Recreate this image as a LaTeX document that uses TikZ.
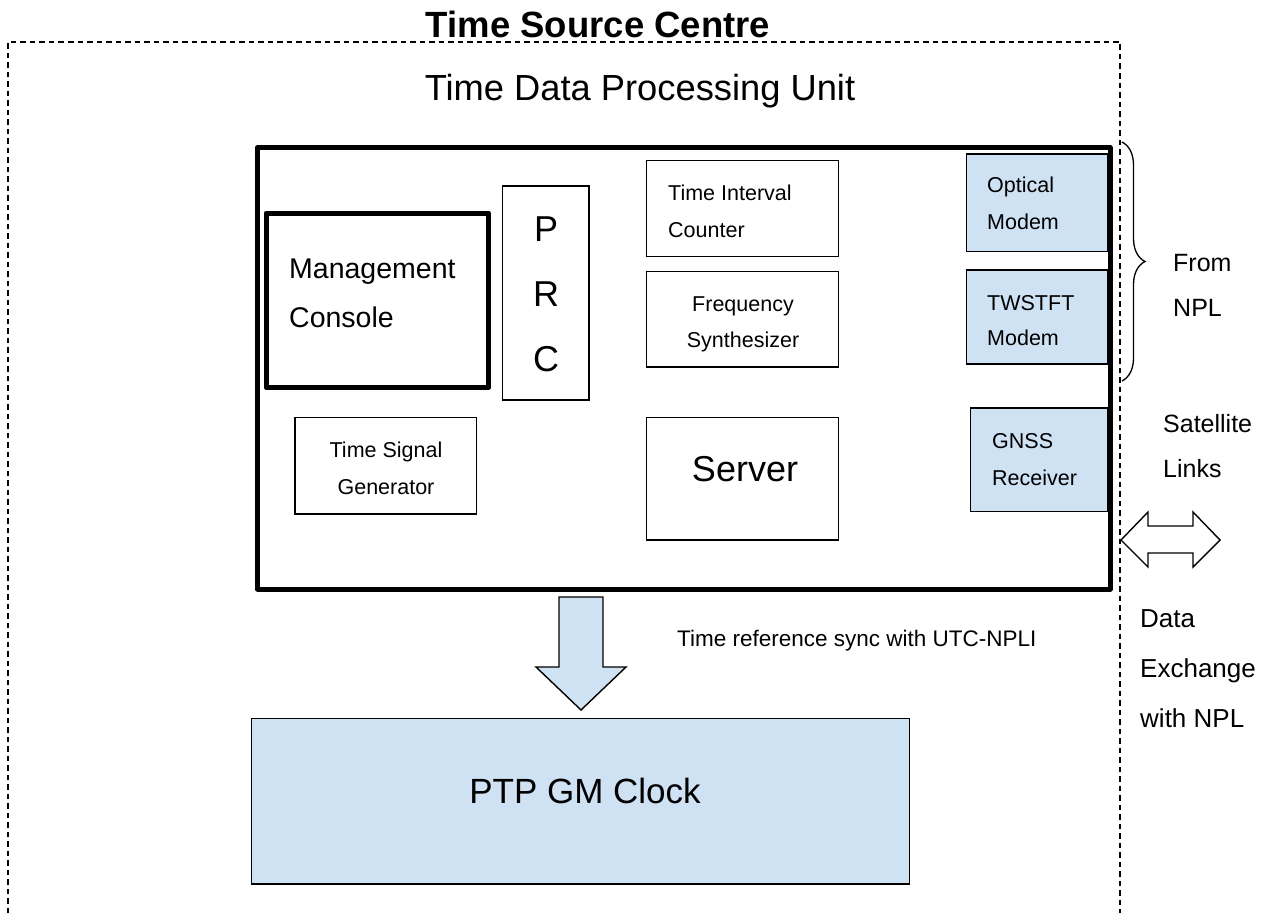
\documentclass[tikz,border=0pt]{standalone}
\usepackage{fontspec}
\setmainfont{Liberation Sans}
\usetikzlibrary{decorations.pathreplacing}
\definecolor{lblue}{HTML}{CFE2F3}
\begin{document}
\begin{tikzpicture}[x=1pt,y=-1pt,
  box/.style={draw, line width=1.4pt, inner sep=0pt, fill=white},
  bluebox/.style={box, fill=lblue},
  thickbox/.style={draw, line width=5pt, inner sep=0pt, line join=round},
  txt/.style={inner sep=0pt, align=left, anchor=base west},
  ctxt/.style={inner sep=0pt, align=center, anchor=base},
  frame/.style={line width=1.2pt, dash pattern=on 5.5pt off 4pt},
  blockarrow/.style={draw, line width=1.4pt, line join=miter}]
\useasboundingbox (0,0) rectangle (1281,913);

% dashed frame
\coordinate (fbl) at (8,913);
\coordinate (ftl) at (8,42);
\coordinate (ftr) at (1120,42);
\coordinate (fbr) at (1120,913);
\draw[frame] (fbl) -- (ftl) -- (ftr) -- (fbr);

\node[ctxt, font=\fontsize{36.5}{44}\selectfont\bfseries] (title) at (598,37) {Time Source Centre};
\node[ctxt, font=\fontsize{36.3}{43}\selectfont] (tdpu) at (640,100) {Time Data Processing Unit};

% main unit
\node[thickbox, minimum width=852.5pt, minimum height=441.5pt] (unit) at (683.75,368.25) {};

\node[thickbox, minimum width=222.5pt, minimum height=174.5pt] (mgmt) at (377.25,300.25) {};
\node[txt, font=\fontsize{28.5}{49}\selectfont] (mgmtt) at (289,327) {Management\\Console};

\node[box, minimum width=86.5pt, minimum height=214pt] (prc) at (545.75,293) {};
\node[ctxt, font=\fontsize{36}{65}\selectfont] (prct) at (546,371) {P\\R\\C};

\node[box, minimum width=192pt, minimum height=96pt] (tic) at (742.7,208.7) {};
\node[txt, font=\fontsize{21.5}{37}\selectfont] (tict) at (668,237) {Time Interval\\Counter};

\node[box, minimum width=192pt, minimum height=95.7pt] (freq) at (742.7,319.15) {};
\node[ctxt, font=\fontsize{21.5}{36}\selectfont] (freqt) at (743,347) {Frequency\\Synthesizer};

\node[bluebox, minimum width=141.7pt, minimum height=97.3pt] (opt) at (1037.15,202.65) {};
\node[txt, font=\fontsize{21.5}{37}\selectfont] (optt) at (987,229) {Optical\\Modem};

\node[bluebox, minimum width=141.7pt, minimum height=94pt] (tw) at (1037.15,317) {};
\node[txt, font=\fontsize{21.5}{35}\selectfont] (twt) at (987,345) {TWSTFT\\Modem};

\node[bluebox, minimum width=137.3pt, minimum height=103.7pt] (gnss) at (1039.35,459.85) {};
\node[txt, font=\fontsize{21.5}{37}\selectfont] (gnsst) at (992,485) {GNSS\\Receiver};

\node[box, minimum width=181.3pt, minimum height=96.7pt] (tsg) at (385.65,465.65) {};
\node[ctxt, font=\fontsize{21.5}{37}\selectfont] (tsgt) at (386,494) {Time Signal\\Generator};

\node[box, minimum width=192.4pt, minimum height=122.7pt] (server) at (742.5,478.65) {};
\node[ctxt, font=\fontsize{36}{43}\selectfont] (servert) at (745,481) {Server};

% PTP clock
\node[bluebox, minimum width=658.4pt, minimum height=165.7pt] (ptp) at (580.5,801.15) {};
\node[ctxt, font=\fontsize{35}{42}\selectfont] (ptpt) at (585,803) {PTP GM Clock};

% down block arrow
\draw[blockarrow, fill=lblue] (559,597) -- (603,597) -- (603,667) -- (626,667) -- (581,710) -- (536,667) -- (559,667) -- cycle;
\node[txt, font=\fontsize{22.5}{27}\selectfont] (tref) at (677,646) {Time reference sync with UTC-NPLI};

% brace
\draw[line width=1.3pt, decorate, decoration={brace, amplitude=23pt}] (1122,142) -- (1122,381);
\node[txt, font=\fontsize{25}{45}\selectfont] (from) at (1173,316) {From\\NPL};
\node[txt, font=\fontsize{25}{45}\selectfont] (sat) at (1163,477) {Satellite\\Links};

% double arrow
\draw[blockarrow, fill=white] (1121,540) -- (1148,512) -- (1148,526) -- (1193,526) -- (1193,512) -- (1220,540) -- (1193,567) -- (1193,553) -- (1148,553) -- (1148,567) -- cycle;
\node[txt, font=\fontsize{26}{50}\selectfont] (dex) at (1140,727) {Data\\Exchange\\with NPL};
\end{tikzpicture}
\end{document}
